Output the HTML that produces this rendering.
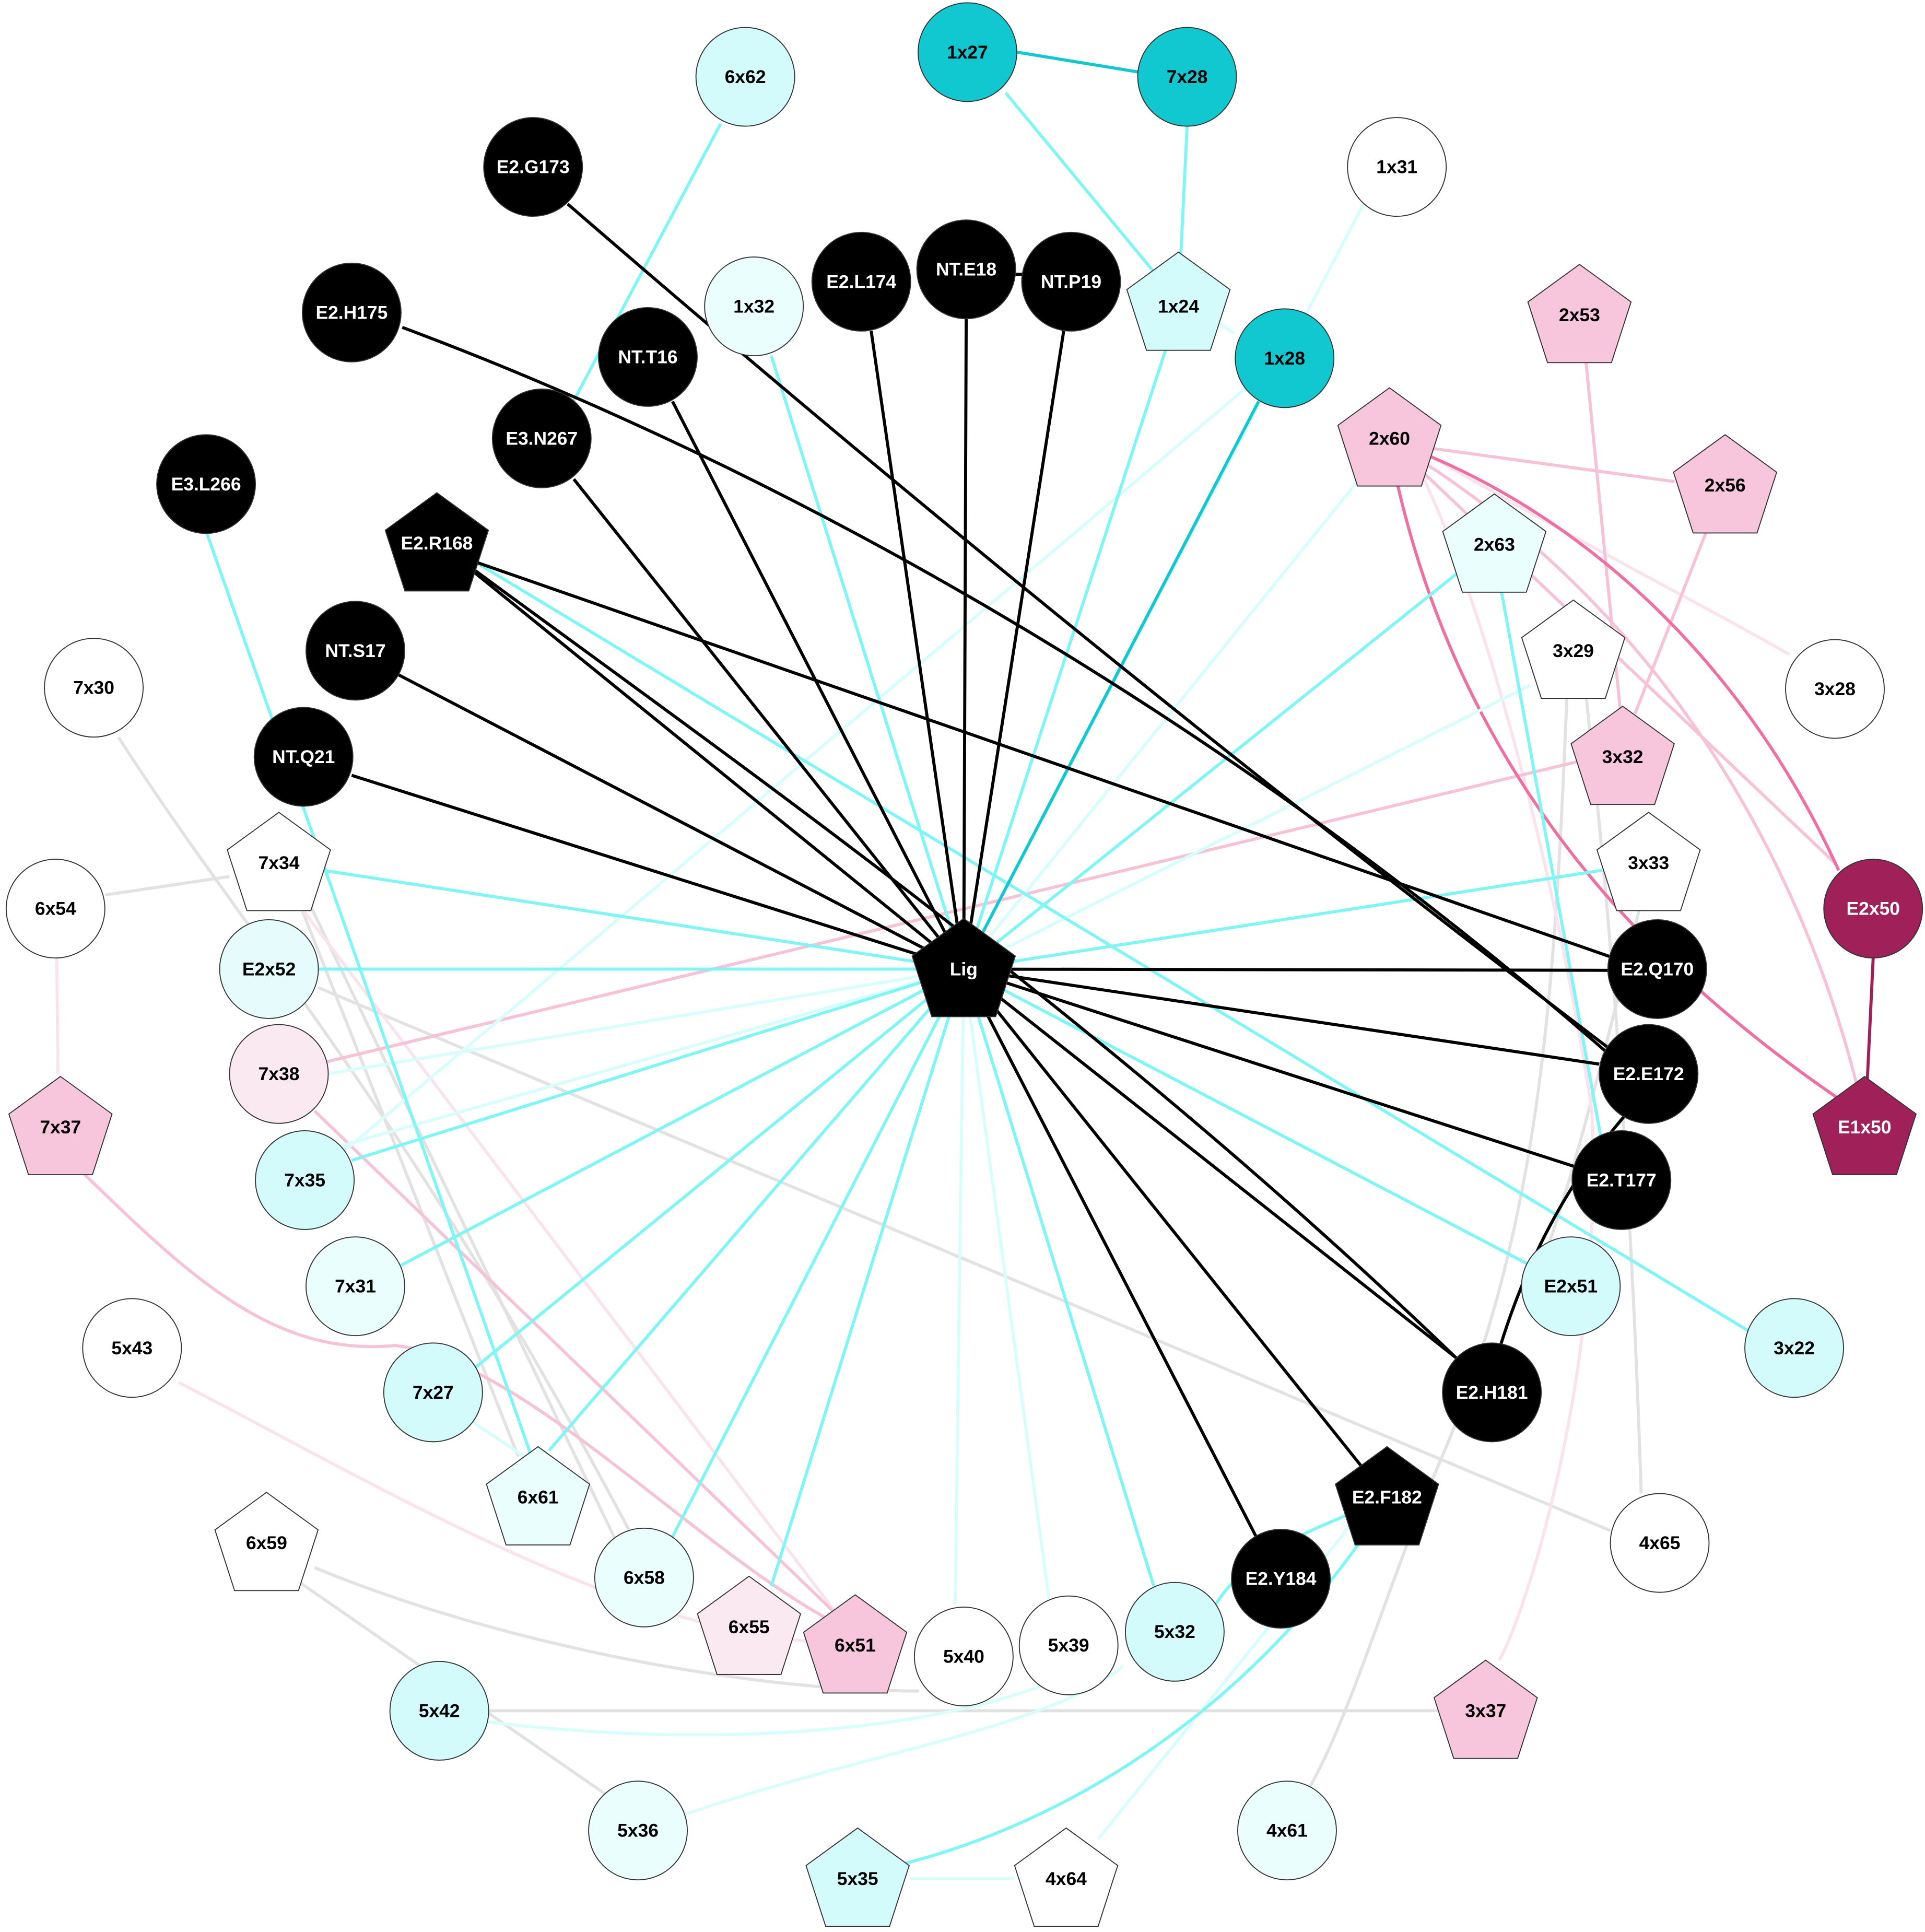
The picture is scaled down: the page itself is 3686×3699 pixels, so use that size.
<!DOCTYPE html>
<html><head><meta charset="utf-8"><style>
html,body{margin:0;padding:0;background:#fff;}
svg{display:block;}
text{font-family:"Liberation Sans",Arial,sans-serif;font-weight:bold;font-size:15px;text-anchor:middle;dominant-baseline:central;}
</style></head><body>
<svg width="3686" height="3699" viewBox="0 0 1560 1565" xmlns="http://www.w3.org/2000/svg">
<defs>
<polygon id="pg" points="0,-44 41.8,-13.6 25.9,35.6 -25.9,35.6 -41.8,-13.6"/>
</defs>
<rect width="1560" height="1565" fill="#fff"/>
<g fill="none" stroke-width="2.5">
<g stroke="#e2e2e2">
<path d="M96,597 C200,760 330,900 510,1240"/>
<path d="M85,725 L186,710"/>
<path d="M245,720 L500,1250"/>
<path d="M240,725 L420,1180"/>
<path d="M258,800 L1305,1240"/>
<path d="M255,1270 C400,1330 600,1370 745,1370"/>
<path d="M240,1280 L500,1460"/>
<path d="M395,1386 L1165,1386"/>
<path d="M1270,560 C1260,800 1250,1000 1160,1200 C1120,1300 1090,1400 1060,1450"/>
<path d="M1285,560 C1300,700 1320,900 1330,1210"/>
<path d="M1330,730 C1290,900 1260,1000 1250,1020"/>
</g>
<g stroke="#fbe3ee">
<path d="M46,775 L47,870"/>
<path d="M145,1120 C300,1200 500,1320 660,1330"/>
<path d="M1160,370 C1300,450 1380,490 1450,530"/>
<path d="M1150,380 C1200,480 1260,700 1290,900 C1300,1100 1240,1300 1215,1345"/>
<path d="M240,730 L680,1310"/>
</g>
<g stroke="#f7c1d8">
<path d="M1160,363 L1357,390"/>
<path d="M1285,290 L1313,575"/>
<path d="M1383,430 L1325,578"/>
<path d="M1150,372 C1350,500 1460,700 1505,880"/>
<path d="M1278,617 L265,860"/>
<path d="M67,950 C150,1030 220,1100 320,1090 C420,1100 560,1250 668,1310"/>
<path d="M255,900 L680,1310"/>
<path d="M1140,370 L1488,700"/>
</g>
<path stroke="#ef6fa3" d="M1160,370 C1300,430 1420,550 1490,705"/>
<path stroke="#ef6fa3" d="M1132,390 C1180,600 1300,760 1490,890"/>
<path stroke="#a0205a" d="M1518,776 L1513,880"/>
<g stroke="#d8fdfd">
<path d="M781,785 L1105,165"/>
<path d="M781,785 L1100,390"/>
<path d="M781,785 L1240,555"/>
<path d="M781,785 L265,870"/>
<path d="M781,785 L774,1300"/>
<path d="M781,785 L850,1295"/>
<path d="M781,785 L270,930"/>
<path d="M1095,1235 L890,1490"/>
<path d="M738,1522 L822,1522"/>
<path d="M380,1150 L425,1180"/>
<path d="M1050,280 L270,940"/>
<path d="M1000,270 L980,255"/>
<path d="M555,1470 C700,1420 850,1400 910,1350"/>
<path d="M395,1395 C600,1420 800,1400 900,1340"/>
</g>
<g stroke="#7ff5f5">
<path d="M781,785 L625,288"/>
<path d="M781,785 L945,282"/>
<path d="M781,785 L258,785"/>
<path d="M781,785 L262,705"/>
<path d="M781,785 L285,940"/>
<path d="M781,785 L325,1025"/>
<path d="M781,785 L385,1108"/>
<path d="M781,785 L445,1175"/>
<path d="M781,785 L545,1245"/>
<path d="M781,785 L625,1285"/>
<path d="M781,785 L935,1285"/>
<path d="M781,785 L1240,1025"/>
<path d="M781,785 L1180,465"/>
<path d="M781,785 L1298,705"/>
<path d="M385,455 L1420,1080"/>
<path d="M167,430 L430,1178"/>
<path d="M584,100 L462,330"/>
<path d="M815,75 L935,220"/>
<path d="M962,102 L957,205"/>
<path d="M1216,475 L1298,925"/>
<path d="M1110,1220 C1060,1240 1010,1260 985,1300"/>
<path d="M1112,1235 C1000,1400 850,1480 732,1510"/>
</g>
<path stroke="#12c8d0" d="M781,785 L1020,325"/>
<path stroke="#12c8d0" d="M824,42 L922,58"/>
<g stroke="#000">
<path d="M781,785 L706,268"/>
<path d="M781,785 L783,258"/>
<path d="M781,785 L862,268"/>
<path d="M781,785 L545,325"/>
<path d="M781,785 L465,388"/>
<path d="M781,785 L320,545"/>
<path d="M781,785 L285,628"/>
<path d="M781,785 L1303,786"/>
<path d="M781,785 L1296,862"/>
<path d="M781,785 L1276,945"/>
<path d="M781,785 L1180,1100"/>
<path d="M781,785 L1105,1190"/>
<path d="M781,785 L1018,1245"/>
<path d="M781,785 L380,460"/>
<path d="M385,455 L1305,775"/>
<path d="M385,462 C600,620 900,830 1180,1100"/>
<path d="M460,165 Q870,520 1305,850"/>
<path d="M326,265 C500,330 900,500 1305,855"/>
<path d="M1320,900 Q1250,980 1216,1090"/>
<path d="M823,222 L830,222"/>
</g>
</g>
<g stroke="#333" stroke-width="0.8">
<circle cx="784" cy="42" r="40" fill="#12c8d0"/>
<circle cx="962" cy="62" r="40" fill="#12c8d0"/>
<circle cx="604" cy="62" r="40" fill="#d4fbfb"/>
<circle cx="432" cy="135" r="40" fill="#000"/>
<circle cx="1132" cy="135" r="40" fill="#fff"/>
<circle cx="285" cy="253" r="40" fill="#000"/>
<circle cx="611" cy="248" r="40" fill="#eafefe"/>
<circle cx="698" cy="228" r="40" fill="#000"/>
<circle cx="783" cy="218" r="40" fill="#000"/>
<circle cx="868" cy="228" r="40" fill="#000"/>
<circle cx="1041" cy="290" r="40" fill="#12c8d0"/>
<circle cx="525" cy="289" r="40" fill="#000"/>
<circle cx="439" cy="355" r="40" fill="#000"/>
<circle cx="167" cy="392" r="40" fill="#000"/>
<circle cx="288" cy="527" r="40" fill="#000"/>
<circle cx="76" cy="557" r="40" fill="#fff"/>
<circle cx="1487" cy="558" r="40" fill="#fff"/>
<circle cx="246" cy="613" r="40" fill="#000"/>
<circle cx="45" cy="736" r="40" fill="#fff"/>
<circle cx="1518" cy="736" r="40" fill="#a0205a"/>
<circle cx="218" cy="785" r="40" fill="#e6fcfc"/>
<circle cx="1343" cy="785" r="40" fill="#000"/>
<circle cx="226" cy="870" r="40" fill="#fbe9f1"/>
<circle cx="1336" cy="870" r="40" fill="#000"/>
<circle cx="247" cy="956" r="40" fill="#d4fbfb"/>
<circle cx="1314" cy="956" r="40" fill="#000"/>
<circle cx="288" cy="1042" r="40" fill="#eafefe"/>
<circle cx="1273" cy="1042" r="40" fill="#d4fbfb"/>
<circle cx="107" cy="1092" r="40" fill="#fff"/>
<circle cx="1454" cy="1092" r="40" fill="#d4fbfb"/>
<circle cx="351" cy="1128" r="40" fill="#d4fbfb"/>
<circle cx="1209" cy="1128" r="40" fill="#000"/>
<circle cx="1345" cy="1250" r="40" fill="#fff"/>
<circle cx="522" cy="1278" r="40" fill="#eafefe"/>
<circle cx="1038" cy="1279" r="40" fill="#000"/>
<circle cx="781" cy="1342" r="40" fill="#fff"/>
<circle cx="866" cy="1333" r="40" fill="#fff"/>
<circle cx="952" cy="1322" r="40" fill="#d4fbfb"/>
<circle cx="356" cy="1386" r="40" fill="#d4fbfb"/>
<circle cx="517" cy="1483" r="40" fill="#eafefe"/>
<circle cx="1043" cy="1483" r="40" fill="#eafefe"/>
<use href="#pg" x="955" y="248" fill="#d4fbfb"/>
<use href="#pg" x="1280" y="258" fill="#f7c6dc"/>
<use href="#pg" x="1126" y="358" fill="#f7c6dc"/>
<use href="#pg" x="1398" y="396" fill="#f7c6dc"/>
<use href="#pg" x="354" y="443" fill="#000"/>
<use href="#pg" x="1211" y="444" fill="#eafefe"/>
<use href="#pg" x="1275" y="530" fill="#fff"/>
<use href="#pg" x="1315" y="616" fill="#f7c6dc"/>
<use href="#pg" x="226" y="702" fill="#fff"/>
<use href="#pg" x="1336" y="702" fill="#fff"/>
<use href="#pg" x="781" y="788" fill="#000"/>
<use href="#pg" x="49" y="916" fill="#f7c6dc"/>
<use href="#pg" x="1511" y="916" fill="#a0205a"/>
<use href="#pg" x="436" y="1216" fill="#eafefe"/>
<use href="#pg" x="1124" y="1216" fill="#000"/>
<use href="#pg" x="216" y="1253" fill="#fff"/>
<use href="#pg" x="607" y="1321" fill="#fbe9f1"/>
<use href="#pg" x="693" y="1336" fill="#f7c6dc"/>
<use href="#pg" x="1204" y="1389" fill="#f7c6dc"/>
<use href="#pg" x="695" y="1525" fill="#d4fbfb"/>
<use href="#pg" x="864" y="1525" fill="#fff"/>
</g>
<g fill="#000">
<text x="604" y="62">6x62</text>
<text x="1132" y="135">1x31</text>
<text x="611" y="248">1x32</text>
<text x="955" y="248">1x24</text>
<text x="1280" y="255">2x53</text>
<text x="1126" y="355">2x60</text>
<text x="1398" y="393">2x56</text>
<text x="1211" y="441">2x63</text>
<text x="1275" y="527">3x29</text>
<text x="76" y="557">7x30</text>
<text x="1487" y="558">3x28</text>
<text x="1315" y="613">3x32</text>
<text x="226" y="699">7x34</text>
<text x="1336" y="699">3x33</text>
<text x="45" y="736">6x54</text>
<text x="218" y="785">E2x52</text>
<text x="226" y="870">7x38</text>
<text x="49" y="913">7x37</text>
<text x="247" y="956">7x35</text>
<text x="288" y="1042">7x31</text>
<text x="1273" y="1042">E2x51</text>
<text x="107" y="1092">5x43</text>
<text x="1454" y="1092">3x22</text>
<text x="351" y="1128">7x27</text>
<text x="436" y="1213">6x61</text>
<text x="216" y="1250">6x59</text>
<text x="1345" y="1250">4x65</text>
<text x="522" y="1278">6x58</text>
<text x="607" y="1318">6x55</text>
<text x="693" y="1333">6x51</text>
<text x="781" y="1342">5x40</text>
<text x="866" y="1333">5x39</text>
<text x="952" y="1322">5x32</text>
<text x="356" y="1386">5x42</text>
<text x="1204" y="1386">3x37</text>
<text x="517" y="1483">5x36</text>
<text x="1043" y="1483">4x61</text>
<text x="695" y="1522">5x35</text>
<text x="864" y="1522">4x64</text>
<text x="784" y="42">1x27</text>
<text x="962" y="62">7x28</text>
<text x="1041" y="290">1x28</text>
</g>
<g fill="#fff">
<text x="432" y="135">E2.G173</text>
<text x="285" y="253">E2.H175</text>
<text x="698" y="228">E2.L174</text>
<text x="783" y="218">NT.E18</text>
<text x="868" y="228">NT.P19</text>
<text x="525" y="289">NT.T16</text>
<text x="439" y="355">E3.N267</text>
<text x="167" y="392">E3.L266</text>
<text x="354" y="440">E2.R168</text>
<text x="288" y="527">NT.S17</text>
<text x="246" y="613">NT.Q21</text>
<text x="1518" y="736">E2x50</text>
<text x="781" y="785">Lig</text>
<text x="1343" y="785">E2.Q170</text>
<text x="1336" y="870">E2.E172</text>
<text x="1511" y="913">E1x50</text>
<text x="1314" y="956">E2.T177</text>
<text x="1209" y="1128">E2.H181</text>
<text x="1124" y="1213">E2.F182</text>
<text x="1038" y="1279">E2.Y184</text>
</g>
</svg>
</body></html>
